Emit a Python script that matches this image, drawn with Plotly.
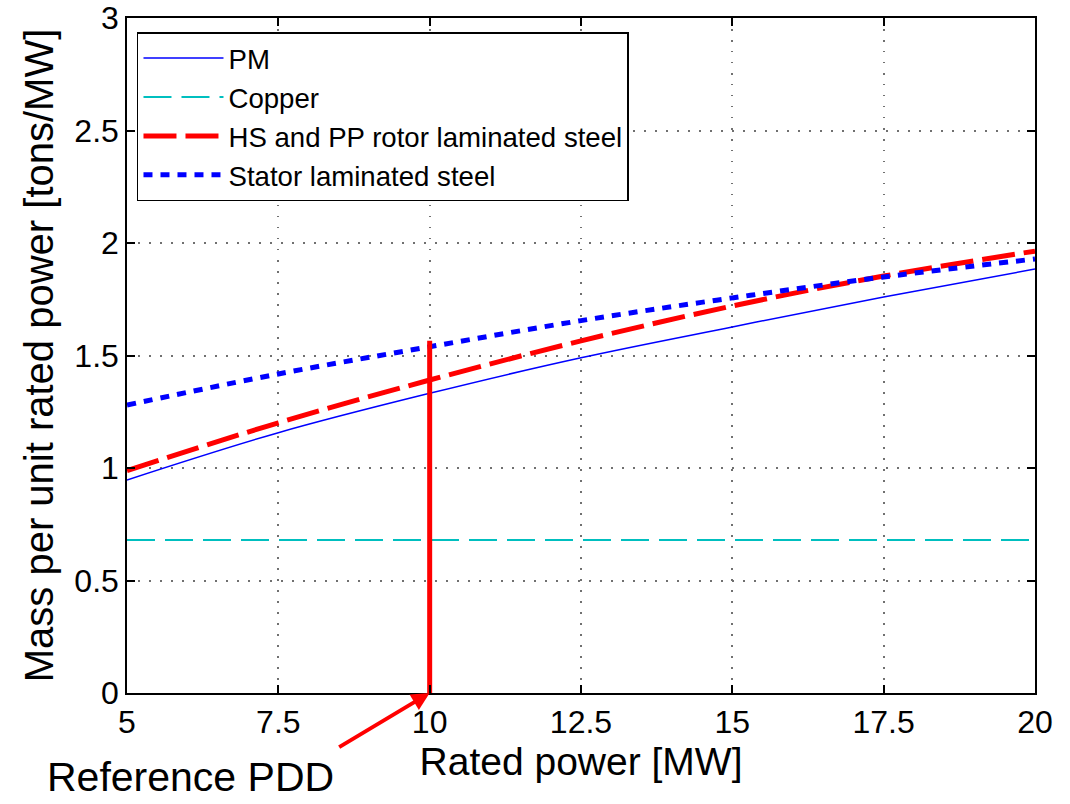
import plotly.graph_objects as go

power_mw = [5, 7.5, 10, 12.5, 15, 17.5, 20]
pm = [0.947, 1.157, 1.332, 1.49, 1.627, 1.76, 1.884]
copper = [0.68, 0.68, 0.68, 0.68, 0.68, 0.68, 0.68]
hs_pp_rotor = [0.988, 1.201, 1.391, 1.565, 1.72, 1.853, 1.964]
stator = [1.28, 1.418, 1.539, 1.655, 1.756, 1.849, 1.929]

ref_x = [10, 10]
ref_y = [0, 1.566]

FONT = "Liberation Sans, Arial, Helvetica, sans-serif"

fig = go.Figure()
fig.add_trace(go.Scatter(x=power_mw, y=pm, mode="lines", name="PM",
                         line=dict(color="#0000ff", width=1.5, shape="spline")))
fig.add_trace(go.Scatter(x=power_mw, y=copper, mode="lines", name="Copper",
                         line=dict(color="#00bfbf", width=2, dash="28px,10px")))
fig.add_trace(go.Scatter(x=power_mw, y=hs_pp_rotor, mode="lines",
                         name="HS and PP rotor laminated steel",
                         line=dict(color="#ff0000", width=5, dash="33px,9px",
                                   shape="spline")))
fig.add_trace(go.Scatter(x=power_mw, y=stator, mode="lines",
                         name="Stator laminated steel",
                         line=dict(color="#0000ff", width=5, dash="9px,8px",
                                   shape="spline")))
fig.add_trace(go.Scatter(x=ref_x, y=ref_y, mode="lines", showlegend=False,
                         line=dict(color="#ff0000", width=5)))

fig.add_annotation(x=10, y=0, xref="x", yref="y", ax=-92, ay=55,
                   axref="pixel", ayref="pixel", text="", showarrow=True,
                   arrowhead=2, arrowsize=0.9, arrowwidth=4, arrowcolor="#ff0000")
fig.add_annotation(x=-0.0903, y=-0.1615, xref="paper", yref="paper",
                   xanchor="left", yanchor="bottom", text="Reference PDD",
                   showarrow=False, font=dict(family=FONT, size=41, color="black"))

axis_common = dict(
    showline=True, linecolor="black", linewidth=1.5, mirror="ticks",
    ticks="inside", ticklen=8, tickcolor="black", tickwidth=1.5,
    showgrid=True, gridcolor="#707070", griddash="1.5px,9.5px", gridwidth=1.5,
    zeroline=False, tickfont=dict(family=FONT, size=32, color="black"),
)

fig.update_layout(
    width=1070, height=804,
    margin=dict(l=127, r=35, t=18, b=111, autoexpand=False),
    paper_bgcolor="white", plot_bgcolor="white",
    font=dict(family=FONT, color="black"),
    xaxis=dict(range=[5, 20], tickvals=[5, 7.5, 10, 12.5, 15, 17.5, 20],
               ticktext=["5", "7.5", "10", "12.5", "15", "17.5", "20"],
               title=dict(text="Rated power [MW]", font=dict(family=FONT, size=39),
                          standoff=2),
               **axis_common),
    yaxis=dict(range=[0, 3], tickvals=[0, 0.5, 1, 1.5, 2, 2.5, 3],
               ticktext=["0", "0.5", "1", "1.5", "2", "2.5", "3"],
               title=dict(text="Mass per unit rated power [tons/MW]",
                          font=dict(family=FONT, size=40), standoff=8),
               **axis_common),
    legend=dict(x=0.011, y=0.979, xanchor="left", yanchor="top",
                bgcolor="white", bordercolor="black", borderwidth=1.5,
                font=dict(family=FONT, size=27.6, color="black"),
                itemwidth=80, tracegroupgap=0),
    showlegend=True,
)

fig.write_html("out.html")
